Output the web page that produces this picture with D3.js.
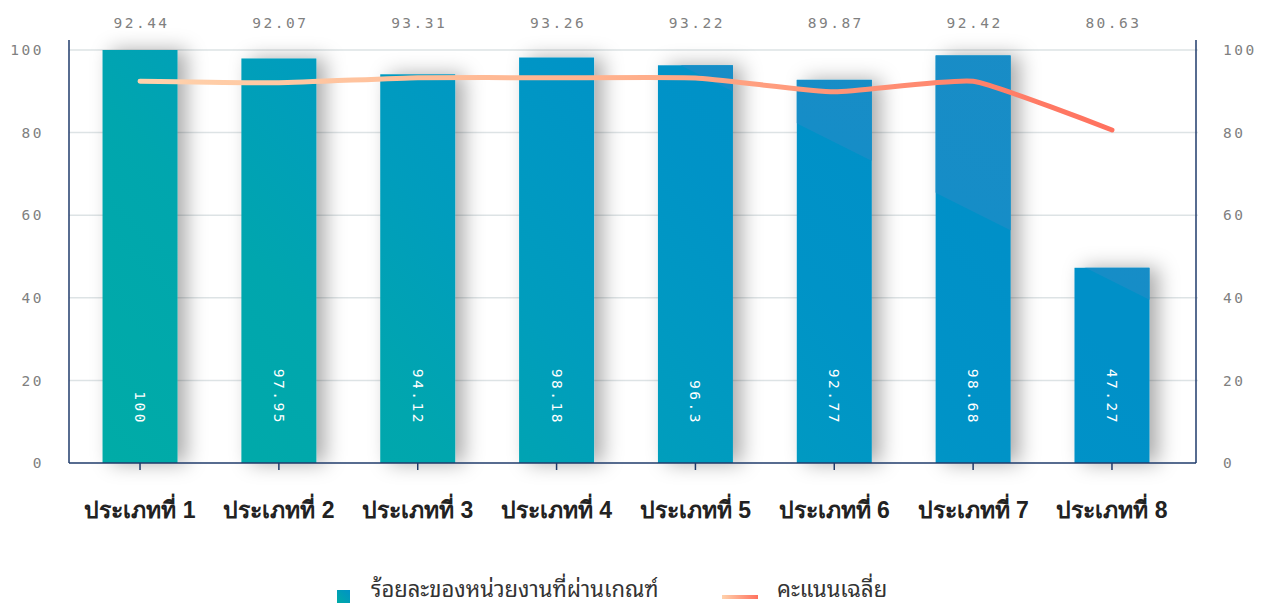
<!DOCTYPE html>
<html>
<head>
<meta charset="utf-8">
<script src="https://cdn.jsdelivr.net/npm/d3@7"></script>
<style>
  body { margin: 0; background: #fff; }
  svg { display: block; font-family: "Noto Sans Thai Looped", "Noto Looped Thai", "Loma", "Garuda", "Noto Sans", sans-serif; }
  .num { font-family: "DejaVu Sans Mono", "Liberation Mono", monospace; letter-spacing: 2.5px; }
</style>
</head>
<body>
<div id="chart"></div>
<script>
/* Bar + line combo chart */

const categories = ["ประเภทที่ 1", "ประเภทที่ 2", "ประเภทที่ 3", "ประเภทที่ 4",
                    "ประเภทที่ 5", "ประเภทที่ 6", "ประเภทที่ 7", "ประเภทที่ 8"];
const passPercent = [100, 97.95, 94.12, 98.18, 96.3, 92.77, 98.68, 47.27];
const avgScore = [92.44, 92.07, 93.31, 93.26, 93.22, 89.87, 92.42, 80.63];
const yTicks = [0, 20, 40, 60, 80, 100];
const legendNames = ["ร้อยละของหน่วยงานที่ผ่านเกณฑ์", "คะแนนเฉลี่ย"];

const width = 1266,
    height = 607,
    margin = ({ top: 50, right: 70, bottom: 144, left: 69 });

const svg = d3.select("#chart")
    .append("svg")
    .attr("width", width)
    .attr("height", height);

const defs = svg.append("defs");

// main bar colour, runs diagonally over the whole plot
const barGrad = defs.append("linearGradient")
    .attr("id", "barGrad")
    .attr("gradientUnits", "userSpaceOnUse")
    .attr("x1", 69).attr("y1", 463)
    .attr("x2", 839).attr("y2", -307);
[[0, "#00aca6"], [0.25, "#00a6ae"], [0.4, "#009dbd"], [0.5, "#0098c3"], [0.6, "#0093c7"], [0.75, "#0090c8"], [1, "#0090c8"]]
    .forEach(s => barGrad.append("stop").attr("offset", s[0]).attr("stop-color", s[1]));

// lighter band in the top-right corner
const hiGrad = defs.append("linearGradient")
    .attr("id", "hiGrad")
    .attr("gradientUnits", "userSpaceOnUse")
    .attr("x1", 69).attr("y1", 463)
    .attr("x2", 459.6).attr("y2", -318.2);
hiGrad.append("stop").attr("offset", 0.72).attr("stop-color", "#1a8dc6").attr("stop-opacity", 0);
hiGrad.append("stop").attr("offset", 0.721).attr("stop-color", "#168dc7").attr("stop-opacity", 1);
hiGrad.append("stop").attr("offset", 1).attr("stop-color", "#1a8cc6").attr("stop-opacity", 1);

const lineGrad = defs.append("linearGradient")
    .attr("id", "lineGrad")
    .attr("gradientUnits", "userSpaceOnUse")
    .attr("x1", 140).attr("y1", 0)
    .attr("x2", 1112).attr("y2", 0);
lineGrad.append("stop").attr("offset", "0").attr("stop-color", "#ffd2ac");
lineGrad.append("stop").attr("offset", "0.5").attr("stop-color", "#ffb08c");
lineGrad.append("stop").attr("offset", "1").attr("stop-color", "#ff715e");

const legBar = defs.append("linearGradient")
    .attr("id", "legBar").attr("x1", 0).attr("y1", 1).attr("x2", 1).attr("y2", 0);
legBar.append("stop").attr("offset", "0").attr("stop-color", "#00aba6");
legBar.append("stop").attr("offset", "1").attr("stop-color", "#0092c6");

const legLine = defs.append("linearGradient")
    .attr("id", "legLine").attr("x1", 0).attr("y1", 0).attr("x2", 1).attr("y2", 0);
legLine.append("stop").attr("offset", "0").attr("stop-color", "#ffd2ac");
legLine.append("stop").attr("offset", "1").attr("stop-color", "#ff715e");

const shadow = defs.append("filter")
    .attr("id", "shadow")
    .attr("x", "-50%").attr("y", "-20%")
    .attr("width", "200%").attr("height", "140%");
shadow.append("feDropShadow")
    .attr("dx", 9).attr("dy", 0)
    .attr("stdDeviation", 10)
    .attr("flood-color", "#000")
    .attr("flood-opacity", 0.33);

let x = d3.scaleBand()
    .domain(categories)
    .range([70.6, 1181.4])
    .paddingInner(0.46)
    .paddingOuter(0.23);

let y = d3.scaleLinear()
    .domain([0, 100])
    .range([height - margin.bottom, margin.top]);

const axisColor = "#1f3b6b";

/* grid */
svg.append("g")
    .selectAll("line")
    .data(yTicks.slice(1))
    .join("line")
    .attr("x1", margin.left)
    .attr("x2", width - margin.right + 2)
    .attr("y1", d => y(d))
    .attr("y2", d => y(d))
    .attr("stroke", "#dde3e5")
    .attr("stroke-width", 1.5);

/* bars */
const bars = svg.append("g");
bars.selectAll("rect.bar")
    .data(passPercent)
    .join("rect")
    .attr("class", "bar")
    .attr("x", (d, i) => x(categories[i]))
    .attr("y", d => y(d))
    .attr("width", x.bandwidth())
    .attr("height", d => y(0) - y(d))
    .attr("fill", "url(#barGrad)")
    .attr("filter", "url(#shadow)");

bars.selectAll("rect.hi")
    .data(passPercent)
    .join("rect")
    .attr("class", "hi")
    .attr("x", (d, i) => x(categories[i]))
    .attr("y", d => y(d))
    .attr("width", x.bandwidth())
    .attr("height", d => y(0) - y(d))
    .attr("fill", "url(#hiGrad)");

bars.selectAll("text")
    .data(passPercent)
    .join("text")
    .attr("class", "num")
    .attr("transform", (d, i) => `translate(${x(categories[i]) + x.bandwidth() / 2 - 5},425) rotate(90)`)
    .attr("text-anchor", "end")
    .attr("fill", "#fff")
    .attr("font-size", 14.5)
    .text(d => d);

/* axes */
svg.append("g")
    .attr("transform", `translate(0,${height - margin.bottom})`)
    .call(d3.axisBottom(x).tickSize(7).tickSizeOuter(0).tickPadding(32))
    .call(g => g.select(".domain").attr("d", `M${margin.left},0H${width - margin.right}`)
        .attr("stroke", axisColor).attr("stroke-width", 1.5))
    .call(g => g.selectAll(".tick line").attr("stroke", axisColor).attr("stroke-width", 1.5))
    .call(g => g.selectAll(".tick text")
        .attr("font-size", 23)
        .attr("font-weight", 600)
        .attr("fill", "#222")
        .attr("font-family", null));

svg.append("g")
    .attr("transform", `translate(${margin.left},0)`)
    .call(d3.axisLeft(y).tickValues(yTicks).tickSize(0).tickPadding(25))
    .call(g => g.select(".domain").attr("d", `M0,${margin.top - 10}V${y(0)}`)
        .attr("stroke", axisColor).attr("stroke-width", 1.5))
    .call(g => g.selectAll(".tick text").attr("class", "num")
        .attr("font-family", null)
        .attr("font-size", 14.5).attr("fill", "#808080"));

svg.append("g")
    .attr("transform", `translate(${width - margin.right},0)`)
    .call(d3.axisRight(y).tickValues(yTicks).tickSize(0).tickPadding(27))
    .call(g => g.select(".domain").attr("d", `M0,${margin.top - 10}V${y(0)}`)
        .attr("stroke", axisColor).attr("stroke-width", 1.5))
    .call(g => g.selectAll(".tick text").attr("class", "num")
        .attr("font-family", null)
        .attr("font-size", 14.5).attr("fill", "#808080"));

/* line */
let line = d3.line()
    .x((d, i) => x(categories[i]) + x.bandwidth() / 2)
    .y(d => y(d))
    .curve(d3.curveCardinal.tension(0.55));

svg.append("path")
    .datum(avgScore)
    .attr("d", line)
    .attr("fill", "none")
    .attr("stroke", "url(#lineGrad)")
    .attr("stroke-width", 5)
    .attr("stroke-linecap", "round")
    .attr("stroke-linejoin", "round");

svg.append("g")
    .selectAll("text")
    .data(avgScore)
    .join("text")
    .attr("class", "num")
    .attr("x", (d, i) => x(categories[i]) + x.bandwidth() / 2 + 1.5)
    .attr("y", 28)
    .attr("text-anchor", "middle")
    .attr("fill", "#808080")
    .attr("font-size", 14.5)
    .text(d => d.toFixed(2));

/* legend */
const legend = svg.append("g").attr("font-size", 22).attr("fill", "#333");
legend.append("rect")
    .attr("x", 337).attr("y", 590).attr("width", 13).attr("height", 13)
    .attr("fill", "url(#legBar)");
legend.append("text")
    .attr("x", 371).attr("y", 597)
    .text(legendNames[0]);
legend.append("rect")
    .attr("x", 722).attr("y", 595).attr("width", 36).attr("height", 4)
    .attr("fill", "url(#legLine)");
legend.append("text")
    .attr("x", 777).attr("y", 597)
    .text(legendNames[1]);
</script>
</body>
</html>
